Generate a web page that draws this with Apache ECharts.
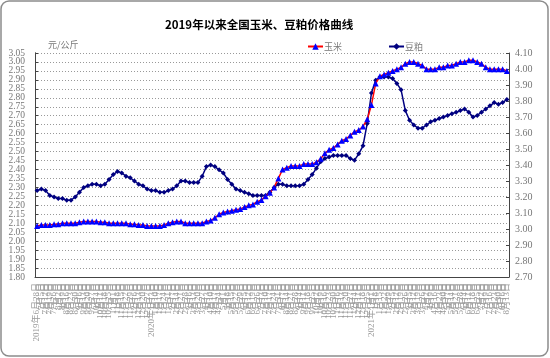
<!DOCTYPE html>
<html><head><meta charset="utf-8">
<script src="https://cdn.jsdelivr.net/npm/echarts@6/dist/echarts.min.js"></script>
<style>html,body{margin:0;padding:0;background:#fff}#c{width:550px;height:358px}</style>
</head><body><div id="c"></div>
<script>
var categories = [
'2019年6月28日','7月5日','7月12日','7月19日','7月26日','8月2日','8月9日','8月16日','8月23日','8月30日',
'9月6日','9月13日','9月20日','9月27日','10月4日','10月11日','10月18日','10月25日','11月1日','11月8日',
'11月15日','11月22日','11月29日','12月6日','12月13日','12月20日','12月27日',
'2020年1月3日','1月10日','1月17日','1月24日','1月31日','2月7日','2月14日','2月21日','2月28日',
'3月6日','3月13日','3月20日','3月27日','4月3日','4月10日','4月17日','4月24日','5月1日','5月8日',
'5月15日','5月22日','5月29日','6月5日','6月12日','6月19日','6月26日','7月3日','7月10日','7月17日',
'7月24日','7月31日','8月7日','8月14日','8月21日','8月28日','9月4日','9月11日','9月18日','9月25日',
'10月2日','10月9日','10月16日','10月23日','10月30日','11月6日','11月13日','11月20日','11月27日',
'12月4日','12月11日','12月18日','12月25日',
'2021年1月1日','1月8日','1月15日','1月22日','1月29日','2月5日','2月12日','2月19日','2月26日',
'3月5日','3月12日','3月19日','3月26日','4月2日','4月9日','4月16日','4月23日','4月30日',
'5月7日','5月14日','5月21日','5月28日','6月4日','6月11日','6月18日','6月25日',
'7月2日','7月9日','7月16日','7月23日','7月30日','8月6日','8月13日'
];
var corn = [
2.085,2.09,2.09,2.09,2.095,2.095,2.10,2.10,2.10,2.10,
2.105,2.11,2.11,2.11,2.11,2.105,2.105,2.10,2.10,2.10,
2.10,2.10,2.095,2.095,2.09,2.09,2.085,2.085,2.085,2.085,
2.09,2.10,2.105,2.11,2.11,2.10,2.10,2.10,2.10,2.10,
2.11,2.115,2.13,2.15,2.16,2.165,2.17,2.175,2.18,2.19,
2.20,2.205,2.22,2.23,2.25,2.27,2.30,2.35,2.40,2.41,
2.42,2.42,2.42,2.43,2.43,2.43,2.44,2.46,2.49,2.51,
2.52,2.54,2.56,2.57,2.59,2.61,2.62,2.64,2.68,2.76,
2.88,2.92,2.93,2.94,2.95,2.96,2.97,2.99,3.00,3.00,
2.99,2.98,2.96,2.96,2.96,2.97,2.97,2.98,2.98,2.99,
3.00,3.00,3.01,3.01,3.00,2.99,2.97,2.96,2.96,2.96,
2.96,2.95
];
var soymeal = [
3.24,3.25,3.24,3.21,3.20,3.19,3.19,3.18,3.18,3.20,
3.23,3.26,3.27,3.28,3.28,3.27,3.28,3.31,3.34,3.36,
3.35,3.33,3.32,3.30,3.28,3.27,3.25,3.24,3.24,3.23,
3.23,3.24,3.25,3.27,3.30,3.30,3.29,3.29,3.29,3.33,
3.39,3.40,3.39,3.37,3.35,3.31,3.28,3.25,3.24,3.23,
3.22,3.21,3.21,3.21,3.21,3.23,3.26,3.28,3.28,3.27,
3.27,3.27,3.27,3.28,3.31,3.34,3.38,3.42,3.44,3.45,
3.46,3.46,3.46,3.46,3.44,3.43,3.47,3.52,3.66,3.85,
3.93,3.95,3.95,3.95,3.94,3.91,3.87,3.74,3.68,3.65,
3.63,3.63,3.65,3.67,3.68,3.69,3.70,3.71,3.72,3.73,
3.74,3.75,3.73,3.70,3.71,3.73,3.75,3.77,3.79,3.78,
3.79,3.81
];
var seriesNames = ['玉米','豆粕'];
var titleText = '2019年以来全国玉米、豆粕价格曲线';
var unitText = '元/公斤';

var chart = echarts.init(document.getElementById('c'), null, {renderer:'canvas'});
var serif = '"Liberation Serif","DejaVu Serif","Noto Sans CJK SC",serif';
var cjk = '"Noto Sans CJK SC",sans-serif';
var labelColor = '#777';
function leftAxis(even, extra) {
  var ax = {type:'value',min:1.8,max:3.05,interval:0.05,position:'left',offset:0,
    axisLine:{show:true,lineStyle:{color:'#444'}},
    axisTick:{show:true,inside:true,length:3,lineStyle:{color:'#444'}},
    axisLabel:{fontSize:9.5,color:labelColor,margin:10,fontFamily:serif,showMinLabel:true,showMaxLabel:true,
      formatter:function(v){var k=Math.round(v*100)/5; return ((k%2===0)===even)? v.toFixed(2) : '';}},
    splitLine:{show:even,lineStyle:{color:'#999',type:[1,2],width:1}}};
  for (var key in extra) ax[key]=extra[key];
  return ax;
}
chart.setOption({
  animation:false,
  backgroundColor:'#fff',
  graphic:[{type:'rect',shape:{x:1,y:1,width:547,height:355,r:8},style:{fill:'none',stroke:'#8c8c8c',lineWidth:1.5},silent:true}],
  title:{text:titleText,left:160,top:14,textStyle:{fontSize:11.5,fontWeight:'bold',color:'#000',fontFamily:cjk}},
  legend:{left:302,top:37,itemWidth:15,itemHeight:8,itemGap:46,
    textStyle:{fontSize:9,color:labelColor,fontFamily:cjk,padding:[0,0,0,-4]},
    data:seriesNames},
  grid:{left:35,right:41,top:53,bottom:81},
  xAxis:{type:'category',data:categories,boundaryGap:true,
    axisLine:{lineStyle:{color:'#444',width:1}},
    axisTick:{inside:true,length:3,interval:0,lineStyle:{color:'#444'}},
    axisLabel:{interval:0,rotate:90,fontSize:9,color:'#9a9a9a',margin:6,fontFamily:serif,hideOverlap:false},
    splitLine:{show:false}},
  yAxis:[
    leftAxis(true,{name:unitText,nameLocation:'end',nameGap:4,
      nameTextStyle:{fontSize:9,color:labelColor,align:'left',padding:[0,0,0,13],fontFamily:cjk}}),
    leftAxis(false,{}),
    {type:'value',min:2.7,max:4.1,interval:0.1,position:'right',
      axisLine:{show:true,lineStyle:{color:'#444'}},
      axisTick:{show:true,inside:true,length:3,lineStyle:{color:'#444'}},
      axisLabel:{fontSize:10,color:labelColor,margin:6,fontFamily:serif,showMinLabel:true,showMaxLabel:true,
        formatter:function(v){return v.toFixed(2);}},
      splitLine:{show:false}}],
  series:[
    {name:seriesNames[0],type:'line',yAxisIndex:0,data:corn,symbol:'triangle',symbolSize:6,
      lineStyle:{color:'#ff0000',width:1.5},itemStyle:{color:'#0000ff',borderWidth:0},z:3},
    {name:seriesNames[1],type:'line',yAxisIndex:2,data:soymeal,symbol:'diamond',symbolSize:5,
      lineStyle:{color:'#000080',width:1.5},itemStyle:{color:'#000080',borderWidth:0},z:2}
  ]
});
</script></body></html>
